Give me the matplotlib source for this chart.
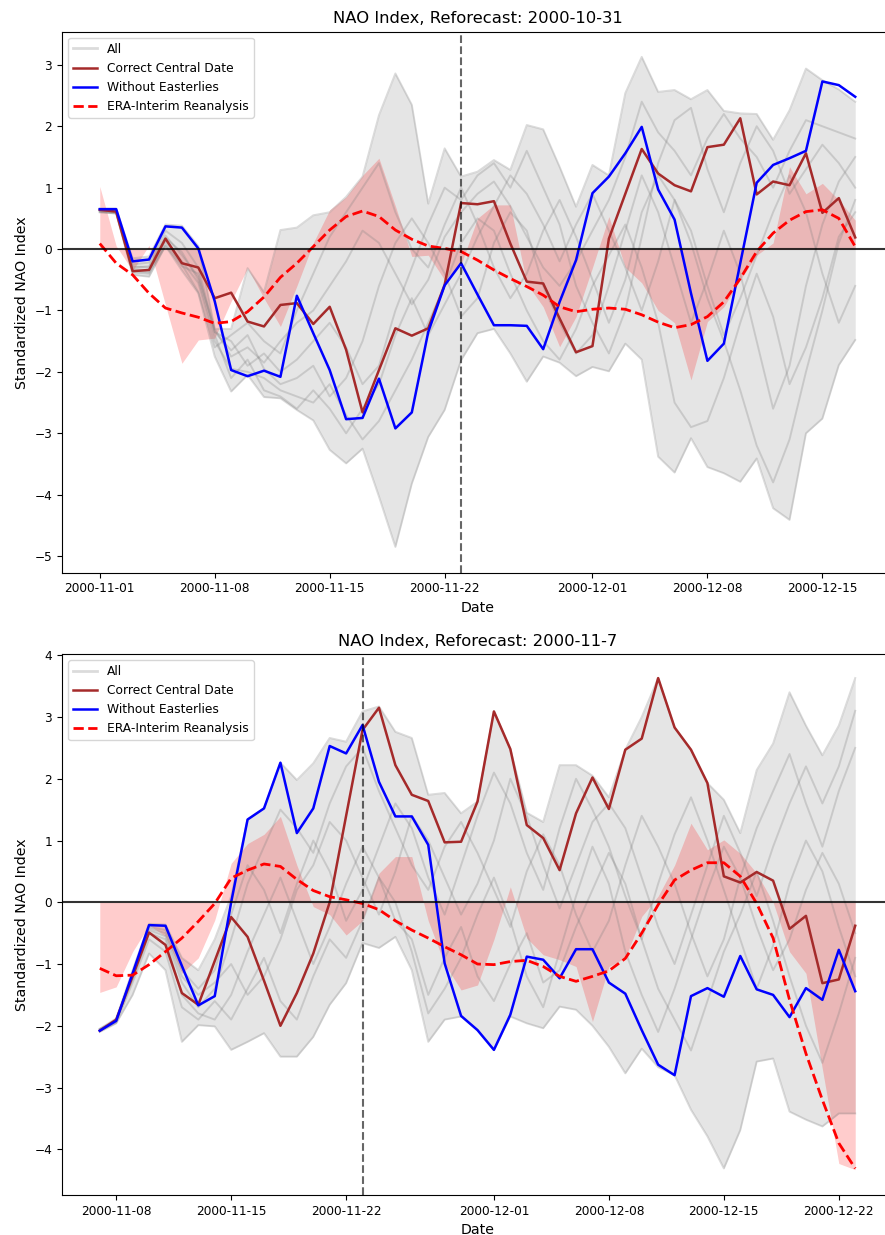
import numpy as np
import pandas as pd
import matplotlib
matplotlib.use("Agg")
import matplotlib.pyplot as plt

# ---------------- reforecast initialised 2000-10-31 ----------------
dates_top = pd.date_range("2000-11-01", periods=47, freq="D")

blue_top = [0.65, 0.65, -0.20, -0.17, 0.37, 0.35, 0.01, -0.85, -1.97, -2.07,
            -1.98, -2.08, -0.76, -1.37, -1.97, -2.77, -2.75, -2.11, -2.92, -2.66,
            -1.35, -0.59, -0.23, -0.74, -1.24, -1.24, -1.25, -1.63, -0.86, -0.18,
            0.91, 1.18, 1.56, 1.99, 0.97, 0.48, -0.72, -1.82, -1.54, -0.23,
            1.08, 1.37, 1.48, 1.60, 2.73, 2.67, 2.48]

maroon_top = [0.64, 0.61, -0.36, -0.34, 0.17, -0.23, -0.30, -0.80, -0.71, -1.18,
              -1.26, -0.91, -0.88, -1.22, -0.94, -1.64, -2.66, -1.97, -1.29, -1.41,
              -1.29, -0.58, 0.75, 0.73, 0.78, 0.09, -0.53, -0.56, -1.13, -1.68,
              -1.58, 0.17, 0.90, 1.63, 1.23, 1.04, 0.94, 1.66, 1.70, 2.13,
              0.89, 1.10, 1.04, 1.56, 0.59, 0.83, 0.19]

era_top = [0.09, -0.23, -0.42, -0.72, -0.96, -1.04, -1.11, -1.21, -1.18, -1.02,
           -0.78, -0.46, -0.23, 0.04, 0.31, 0.53, 0.62, 0.53, 0.31, 0.16,
           0.05, 0.01, -0.04, -0.18, -0.34, -0.48, -0.61, -0.75, -0.94, -1.02,
           -0.98, -0.96, -0.98, -1.07, -1.19, -1.28, -1.23, -1.10, -0.86, -0.48,
           -0.04, 0.26, 0.47, 0.61, 0.64, 0.50, 0.04]

era_daily_top = [1.02, 0.05, -0.35, 0.06, -0.91, -1.86, -1.48, -1.45, -0.85, -0.31,
                 -0.80, -1.26, -0.60, 0.10, 0.64, 0.85, 1.20, 1.48, 0.70, -0.12,
                 -0.10, -0.50, -0.25, 0.50, 0.72, 0.72, -0.56, -0.94, -1.59, -1.10,
                 -0.30, 0.53, -0.30, -0.55, -1.00, -1.20, -2.13, -1.18, -0.94, -0.50,
                 -0.10, 0.10, 1.34, 0.90, 1.07, 0.80, 0.47]

ens_max_top = [0.66, 0.66, -0.15, -0.12, 0.40, 0.38, 0.05, -1.30, -1.30, -0.31,
               -0.70, 0.31, 0.35, 0.55, 0.60, 0.85, 1.18, 2.18, 2.86, 2.35,
               0.74, 1.64, 1.18, 1.26, 1.45, 1.29, 2.02, 1.95, 1.34, 0.69,
               1.37, 1.20, 2.54, 3.13, 2.56, 2.59, 2.44, 2.59, 2.25, 2.21,
               2.20, 1.78, 2.26, 2.94, 2.75, 2.60, 2.40]

ens_min_top = [0.60, 0.58, -0.42, -0.45, 0.05, -0.35, -0.72, -1.75, -2.32, -2.05,
               -2.41, -2.43, -2.62, -2.79, -3.27, -3.49, -3.25, -4.03, -4.85, -3.82,
               -3.06, -2.62, -1.81, -1.37, -1.30, -1.70, -2.16, -1.75, -1.85, -2.07,
               -1.92, -1.99, -1.54, -1.80, -3.38, -3.64, -3.08, -3.55, -3.65, -3.79,
               -3.41, -4.22, -4.41, -3.00, -2.76, -1.89, -1.48]

members_top = [
    [0.63, 0.62, -0.30, -0.28, 0.22, -0.10, -0.45, -1.30, -1.75, -1.60,
     -1.85, -1.50, -1.20, -1.00, -0.60, -0.20, 0.30, 0.10, -0.40, -0.90,
     -0.50, 0.20, 0.60, 0.90, 1.10, 0.70, 0.20, -0.30, -0.60, -0.20,
     0.30, 0.80, 1.50, 2.40, 1.90, 1.60, 1.20, 1.80, 2.20, 1.80,
     1.50, 1.00, 1.60, 2.10, 2.00, 1.90, 1.80],
    [0.62, 0.60, -0.32, -0.35, 0.15, -0.20, -0.55, -1.50, -1.95, -2.00,
     -2.10, -2.30, -2.40, -2.50, -2.20, -2.70, -3.10, -2.80, -2.30, -1.80,
     -1.20, -0.60, 0.10, 0.50, 0.30, -0.40, -1.00, -1.50, -1.80, -1.30,
     -0.60, -0.10, 0.40, -0.30, -1.20, -2.50, -2.90, -2.80, -2.10, -1.20,
     -0.40, -1.10, -2.20, -1.60, -0.80, 0.20, 0.60],
    [0.60, 0.58, -0.38, -0.40, 0.10, -0.25, -0.70, -1.60, -1.40, -1.20,
     -1.50, -1.70, -1.00, -0.40, 0.20, 0.60, 1.00, 1.40, 0.60, 0.00,
     -0.30, 0.40, 1.00, 0.40, -0.30, -0.80, -0.40, 0.30, 0.80, 0.20,
     -0.50, -1.20, -0.50, 0.60, 1.20, 0.80, 0.10, -0.80, -1.50, -2.30,
     -3.20, -3.80, -3.10, -2.00, -1.00, 0.10, 0.80],
    [0.64, 0.63, -0.25, -0.22, 0.30, 0.10, -0.30, -1.35, -1.50, -1.90,
     -1.70, -2.00, -1.80, -1.50, -1.20, -1.60, -2.20, -1.90, -1.00, -0.30,
     0.40, 1.00, 0.80, 1.20, 1.40, 1.00, 1.60, 1.00, 0.40, -0.60,
     -1.20, -1.70, -1.00, 0.20, 1.40, 2.10, 2.30, 1.30, 0.60, 1.40,
     2.00, 1.60, 0.90, 1.30, 1.70, 1.40, 1.00],
    [0.61, 0.59, -0.35, -0.38, 0.05, -0.28, -0.40, -1.35, -1.65, -1.40,
     -1.95, -2.20, -2.10, -1.90, -2.40, -2.10, -1.50, -0.60, 0.10, 0.50,
     0.10, -0.40, -1.10, -0.80, 0.10, 0.60, 0.30, -0.60, -1.20, -1.70,
     -1.40, -0.60, 0.30, 1.20, 0.60, -0.30, -1.20, -0.50, 0.30, -0.40,
     -1.50, -2.60, -1.90, -0.60, 0.40, 1.10, 1.50],
    [0.63, 0.61, -0.28, -0.30, 0.18, -0.05, -0.50, -1.40, -2.10, -1.80,
     -2.30, -2.40, -2.60, -2.30, -2.60, -3.00, -2.60, -2.20, -1.40, -0.80,
     -1.40, -0.90, -0.40, 0.20, 0.70, 1.20, 0.90, 0.40, -0.20, 0.40,
     0.90, 0.30, -0.30, -1.00, -0.20, 0.80, 0.30, -0.60, -1.40, -0.80,
     -0.10, 0.60, 1.20, 0.60, -0.40, -1.20, -0.60],
]

# ---------------- reforecast initialised 2000-11-07 ----------------
dates_bot = pd.date_range("2000-11-07", periods=47, freq="D")

blue_bot = [-2.08, -1.92, -1.15, -0.37, -0.38, -1.03, -1.67, -1.52, 0.00, 1.34,
            1.52, 2.26, 1.12, 1.52, 2.53, 2.41, 2.87, 1.95, 1.39, 1.39,
            0.93, -0.99, -1.84, -2.07, -2.39, -1.82, -0.88, -0.93, -1.23, -0.76,
            -0.76, -1.30, -1.48, -2.07, -2.63, -2.80, -1.52, -1.39, -1.53, -0.87,
            -1.41, -1.50, -1.86, -1.39, -1.58, -0.77, -1.44]

maroon_bot = [-2.08, -1.90, -1.20, -0.49, -0.69, -1.47, -1.66, -0.95, -0.24, -0.56,
              -1.27, -2.00, -1.47, -0.83, 0.00, 1.40, 2.79, 3.15, 2.22, 1.74,
              1.64, 0.97, 0.98, 1.63, 3.09, 2.48, 1.25, 1.04, 0.52, 1.44,
              2.02, 1.51, 2.47, 2.65, 3.63, 2.83, 2.47, 1.93, 0.42, 0.32,
              0.49, 0.35, -0.43, -0.22, -1.31, -1.25, -0.38]

era_bot = [-1.07, -1.19, -1.18, -1.01, -0.80, -0.58, -0.31, -0.02, 0.39, 0.52,
           0.62, 0.58, 0.37, 0.19, 0.09, 0.04, -0.02, -0.12, -0.30, -0.45,
           -0.58, -0.72, -0.85, -1.00, -1.01, -0.96, -0.94, -1.04, -1.20, -1.28,
           -1.20, -1.11, -0.91, -0.50, -0.04, 0.36, 0.52, 0.64, 0.64, 0.42,
           -0.02, -0.58, -1.58, -2.45, -3.20, -3.90, -4.31]

era_daily_bot = [-1.46, -1.37, -0.80, -0.37, -0.55, -1.15, -0.90, -0.29, 0.63, 0.95,
                 1.10, 1.39, 0.60, -0.07, -0.20, -0.53, -0.30, 0.47, 0.74, 0.74,
                 -0.30, -1.00, -1.42, -1.34, -0.60, 0.25, -0.58, -0.85, -0.93, -1.04,
                 -1.93, -1.04, -0.90, -0.23, 0.10, 0.60, 1.28, 0.85, 1.01, 0.79,
                 0.47, 0.00, -0.80, -1.15, -2.70, -4.23, -4.33]

ens_max_bot = [-2.05, -1.88, -1.10, -0.35, -0.36, -0.90, -1.10, -0.60, 0.10, 1.34,
               1.52, 2.26, 1.98, 2.25, 2.66, 2.60, 3.09, 3.17, 2.76, 2.66,
               1.74, 1.77, 1.44, 1.63, 3.09, 2.48, 1.45, 1.30, 2.22, 2.22,
               2.05, 1.70, 2.47, 3.00, 3.63, 2.83, 2.47, 1.93, 1.66, 1.12,
               2.14, 2.57, 3.40, 2.86, 2.38, 2.86, 3.63]

ens_min_bot = [-2.10, -1.96, -1.50, -0.83, -1.10, -2.26, -1.99, -2.01, -2.39, -2.26,
               -2.12, -2.50, -2.50, -2.18, -1.66, -1.31, -0.66, -0.74, -0.56, -1.10,
               -2.26, -1.90, -1.85, -2.07, -2.39, -1.85, -1.96, -2.04, -1.69, -1.74,
               -2.00, -2.34, -2.77, -2.37, -2.67, -2.80, -3.36, -3.79, -4.31, -3.69,
               -2.58, -2.53, -3.39, -3.52, -3.63, -3.42, -3.42]

members_bot = [
    [-2.07, -1.92, -1.20, -0.45, -0.55, -1.30, -1.70, -1.40, -0.60, 0.30,
     0.90, 1.50, 1.20, 0.80, 1.60, 2.20, 2.50, 1.80, 1.20, 0.60,
     0.20, 0.90, 1.30, 0.80, 0.20, -0.40, 0.50, 1.10, 0.60, -0.20,
     -0.80, -0.30, 0.60, 1.40, 0.90, 0.30, -0.50, -1.20, -0.60, 0.40,
     1.20, 1.80, 2.40, 1.60, 0.90, 1.80, 2.50],
    [-2.06, -1.93, -1.25, -0.50, -0.60, -1.50, -1.80, -1.90, -1.50, -0.80,
     -0.20, 0.40, -0.30, -1.00, -0.40, 0.30, 0.90, 0.40, -0.30, -0.60,
     -1.50, -0.90, -0.40, -1.20, -1.60, -1.00, -0.50, -1.30, -1.10, -0.40,
     0.20, 0.80, 0.30, -0.60, -1.40, -1.90, -2.40, -1.60, -0.80, -0.20,
     0.50, -0.30, -1.20, -2.00, -2.60, -1.80, -0.90],
    [-2.05, -1.90, -1.15, -0.40, -0.45, -1.10, -1.40, -1.10, -0.20, 0.60,
     0.20, -0.50, 0.30, 1.00, 0.50, -0.30, 0.20, 0.90, 1.60, 1.20,
     0.40, -0.20, 0.60, 1.40, 2.10, 1.60, 0.80, 0.20, 1.20, 2.00,
     1.50, 0.90, 0.10, -0.60, 0.30, 1.10, 1.70, 1.00, 0.20, -0.60,
     -1.40, -0.70, 0.30, 1.00, 0.50, -0.40, -1.20],
    [-2.08, -1.95, -1.30, -0.60, -0.80, -1.70, -1.90, -1.60, -1.90, -1.40,
     -0.90, -1.60, -1.90, -1.20, -0.60, -0.90, -0.30, 0.40, 0.00, -0.80,
     -1.80, -1.40, -0.90, -0.20, 0.40, -0.30, -1.20, -1.70, -0.80, 0.10,
     0.90, 0.30, -0.80, -1.50, -2.10, -1.40, -0.60, 0.20, 0.90, 0.40,
     -0.40, -1.10, -0.60, 0.20, 0.80, 0.30, -0.50],
    [-2.06, -1.91, -1.18, -0.42, -0.50, -1.20, -1.50, -1.30, -1.00, -1.50,
     -1.20, -0.60, 0.20, 0.60, 1.30, 1.00, 0.40, -0.20, 0.50, 1.40,
     1.00, 0.40, -0.20, 0.30, 1.00, 2.00, 1.40, 0.60, -0.10, 0.60,
     1.30, 1.60, 1.20, 0.40, -0.40, -1.00, -0.20, 0.60, 1.40, 0.80,
     0.10, 0.90, 1.60, 2.20, 1.60, 2.20, 3.10],
]

central_date = pd.Timestamp("2000-11-23")

panels = [
    dict(title="NAO Index, Reforecast: 2000-10-31", dates=dates_top,
         blue=blue_top, maroon=maroon_top, era=era_top, era_daily=era_daily_top,
         ens_max=ens_max_top, ens_min=ens_min_top, members=members_top,
         ylim=(-5.27, 3.54), rect=[62 / 885, 1 - 572.7 / 1235, 831 / 885, 541 / 1235]),
    dict(title="NAO Index, Reforecast: 2000-11-7", dates=dates_bot,
         blue=blue_bot, maroon=maroon_bot, era=era_bot, era_daily=era_daily_bot,
         ens_max=ens_max_bot, ens_min=ens_min_bot, members=members_bot,
         ylim=(-4.74, 4.02), rect=[62 / 885, 1 - 1195 / 1235, 831 / 885, 541 / 1235]),
]

fig = plt.figure(figsize=(8.85, 12.35), dpi=100)

for p in panels:
    ax = fig.add_axes(p["rect"])
    d = p["dates"]
    grey_kw = dict(color="grey", alpha=0.28, lw=1.4)

    # ensemble spread and individual members
    ax.fill_between(d, p["ens_min"], p["ens_max"], color="grey", alpha=0.2, lw=0)
    ax.plot(d, p["ens_max"], **grey_kw)
    ax.plot(d, p["ens_min"], **grey_kw)
    for k, m in enumerate(p["members"]):
        ax.plot(d, m, label="All" if k == 0 else None, **grey_kw)

    # daily reanalysis anomaly relative to zero
    ax.fill_between(d, 0, p["era_daily"], color="red", alpha=0.2, lw=0)

    ax.plot(d, p["maroon"], color="brown", lw=1.8, label="Correct Central Date")
    ax.plot(d, p["blue"], color="blue", lw=1.8, label="Without Easterlies")
    ax.plot(d, p["era"], color="red", ls="--", lw=2.0, label="ERA-Interim Reanalysis")

    ax.axhline(0, color="black", lw=1.5, alpha=0.8)
    ax.axvline(central_date, color="black", ls="--", lw=1.5, alpha=0.6)

    ax.set_ylim(*p["ylim"])
    ax.set_title(p["title"], fontsize=11.8)
    ax.set_xlabel("Date", fontsize=10.2)
    ax.set_ylabel("Standardized NAO Index", fontsize=10.2)
    ax.tick_params(labelsize=8.7)
    leg = ax.legend(loc="upper left", fontsize=8.8)
    leg.get_lines()[0].set_linewidth(2.0)

fig.savefig("out.png", dpi=100)
